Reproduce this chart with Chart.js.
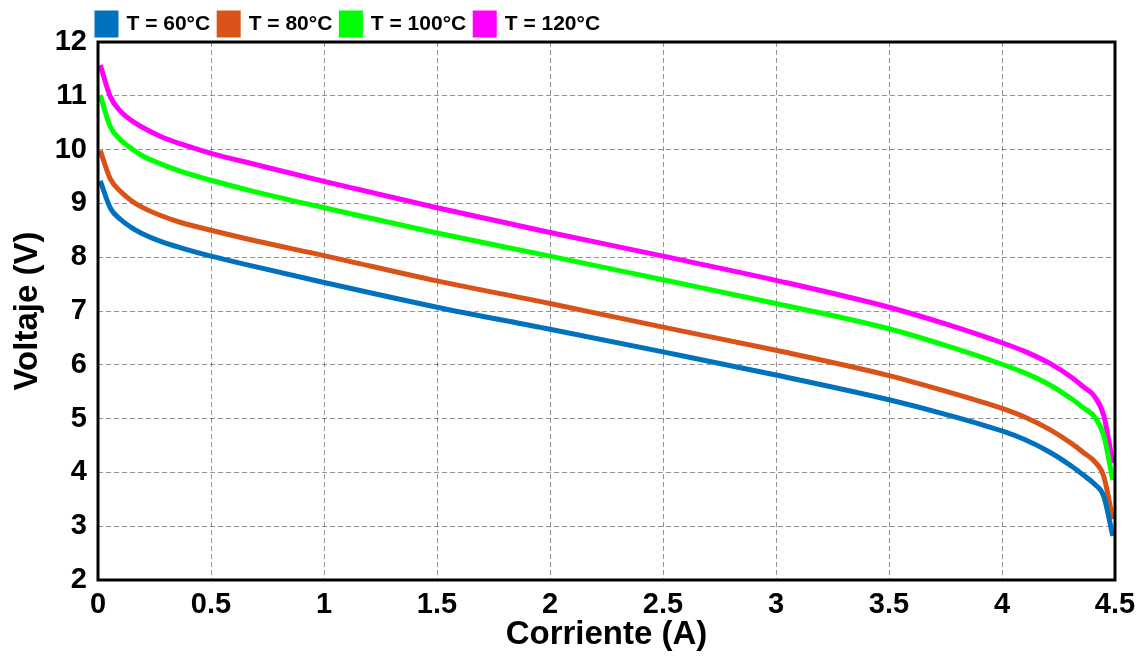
<!DOCTYPE html>
<html>
<head>
<meta charset="utf-8">
<script src="https://cdn.jsdelivr.net/npm/chart.js@4.4.1/dist/chart.umd.min.js"></script>
<style>
  html, body { margin: 0; padding: 0; background: #ffffff; }
  #wrap { width: 1144px; height: 658px; position: relative; }
</style>
</head>
<body>
<div id="wrap"><canvas id="c" width="1144" height="658"></canvas></div>
<script>
// Current (A) sample points shared by every curve
const corriente = [0.01, 0.055, 0.1, 0.145, 0.19, 0.28, 0.37, 0.5, 0.7, 1.0, 1.5, 2.0, 2.5, 3.0, 3.5, 3.75, 4.0, 4.1, 4.21, 4.31, 4.36, 4.41, 4.45, 4.49];

// Voltage (V) at each temperature
const voltaje60  = [9.42, 8.91, 8.70, 8.56, 8.45, 8.29, 8.17, 8.02, 7.82, 7.53, 7.07, 6.66, 6.24, 5.81, 5.35, 5.08, 4.77, 4.61, 4.38, 4.11, 3.95, 3.78, 3.56, 2.82];
const voltaje80  = [9.98, 9.45, 9.22, 9.06, 8.94, 8.77, 8.64, 8.50, 8.30, 8.03, 7.56, 7.14, 6.70, 6.27, 5.80, 5.51, 5.19, 5.03, 4.80, 4.53, 4.37, 4.20, 3.93, 3.13];
const voltaje100 = [11.01, 10.42, 10.18, 10.03, 9.90, 9.73, 9.59, 9.43, 9.21, 8.92, 8.45, 8.02, 7.58, 7.14, 6.67, 6.36, 6.01, 5.85, 5.63, 5.36, 5.20, 5.03, 4.69, 3.86];
const voltaje120 = [11.57, 10.98, 10.71, 10.55, 10.43, 10.24, 10.10, 9.93, 9.72, 9.41, 8.92, 8.46, 8.02, 7.57, 7.07, 6.76, 6.41, 6.25, 6.03, 5.76, 5.59, 5.41, 5.06, 4.17];

const etiquetas = ['T = 60°C', 'T = 80°C', 'T = 100°C', 'T = 120°C'];
const colores = ['#0072BD', '#D95319', '#00FF00', '#FF00FF'];
const series = [voltaje60, voltaje80, voltaje100, voltaje120];

const ejeX = { min: 0, max: 4.5, step: 0.5, titulo: 'Corriente (A)' };
const ejeY = { min: 2, max: 12, step: 1, titulo: 'Voltaje (V)' };

const puntos = (ys) => corriente.map((x, i) => ({ x: x, y: ys[i] }));

const fontTicks = { family: '"Liberation Sans", Arial, sans-serif', size: 29, weight: 'bold' };
const fontTitulo = { family: '"Liberation Sans", Arial, sans-serif', size: 33, weight: 'bold' };
const fontLeyenda = { family: '"Liberation Sans", Arial, sans-serif', size: 21, weight: 'bold' };
const gridColor = 'rgba(0,0,0,0.42)';

// Frame around the plotting area, and legend placement
const marco = {
  id: 'marco',
  afterLayout(chart) {
    if (chart.legend) {
      chart.legend.left = 88;
      chart.legend.top = 4;
    }
  },
  afterDraw(chart) {
    const a = chart.chartArea;
    const ctx = chart.ctx;
    ctx.save();
    ctx.strokeStyle = '#000000';
    ctx.lineWidth = 3;
    ctx.strokeRect(a.left, a.top, a.right - a.left, a.bottom - a.top);
    ctx.restore();
  }
};

new Chart(document.getElementById('c'), {
  type: 'line',
  data: {
    datasets: series.map((s, i) => ({
      label: etiquetas[i],
      data: puntos(s),
      borderColor: colores[i],
      backgroundColor: colores[i],
      borderWidth: 5,
      pointRadius: 0,
      cubicInterpolationMode: 'monotone',
      fill: false
    }))
  },
  options: {
    responsive: false,
    animation: false,
    locale: 'en-US',
    layout: { padding: { left: 0, right: 29, top: 1, bottom: 0 } },
    plugins: {
      legend: {
        display: true,
        position: 'top',
        align: 'start',
        labels: {
          font: fontLeyenda,
          color: '#000000',
          boxWidth: 19,
          boxHeight: 22,
          padding: 9
        }
      },
      tooltip: { enabled: false }
    },
    scales: {
      x: {
        type: 'linear',
        min: ejeX.min,
        max: ejeX.max,
        ticks: {
          stepSize: ejeX.step,
          font: fontTicks,
          color: '#000000',
          padding: 8,
          maxRotation: 0,
          autoSkip: false,
          callback: (v) => String(Math.round(v * 100) / 100)
        },
        grid: { color: gridColor, lineWidth: 1, drawTicks: false, tickLength: 0 },
        border: { display: false, dash: [5, 3] },
        title: { display: true, text: ejeX.titulo, font: fontTitulo, color: '#000000', padding: { top: 0, bottom: 3 } },
        afterFit(scale) { scale.height = 78; }
      },
      y: {
        type: 'linear',
        min: ejeY.min,
        max: ejeY.max,
        ticks: {
          stepSize: ejeY.step,
          font: fontTicks,
          color: '#000000',
          padding: 11
        },
        grid: { color: gridColor, lineWidth: 1, drawTicks: false, tickLength: 0 },
        border: { display: false, dash: [5, 3] },
        title: { display: true, text: ejeY.titulo, font: fontTitulo, color: '#000000', padding: { top: 8, bottom: 0 } },
        afterFit(scale) { scale.width = 98; }
      }
    }
  },
  plugins: [marco]
});
</script>
</body>
</html>
